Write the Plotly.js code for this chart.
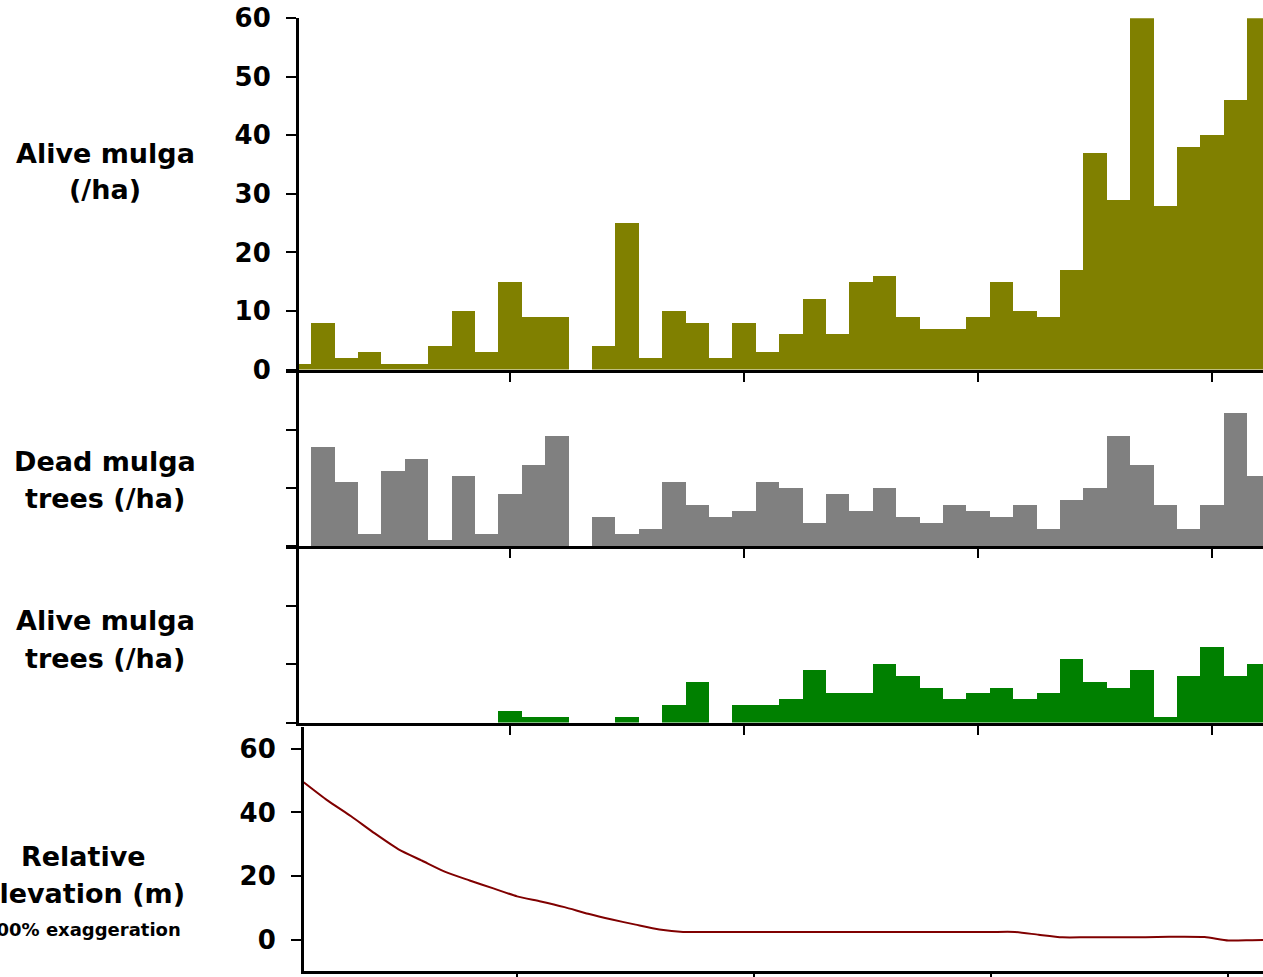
<!DOCTYPE html>
<html>
<head>
<meta charset="utf-8">
<script src="https://cdn.plot.ly/plotly-3.0.1.min.js"></script>
<style>html,body{margin:0;padding:0;overflow:hidden;background:#fff}#chart{width:1263px;height:977px}</style>
</head>
<body>
<div id="chart"></div>
<script>
// Transect bins (one bar per bin)
const bins = [0,1,2,3,4,5,6,7,8,9,10,11,12,13,14,15,16,17,18,19,20,21,22,23,24,25,26,27,28,29,30,31,32,33,34,35,36,37,38,39,40,41];
const aliveMulga = [1,8,2,3,1,1,4,10,3,15,9,9,0,4,25,2,10,8,2,8,3,6,12,6,15,16,9,7,7,9,15,10,9,17,37,29,60,28,38,40,46,60];
const deadTrees = [0,34,22,4,26,30,2,24,4,18,28,38,0,10,4,6,22,14,10,12,22,20,8,18,12,20,10,8,14,12,10,14,6,16,20,38,28,14,6,14,46,24];
const aliveTrees = [0,0,0,0,0,0,0,0,0,4,2,2,0,0,2,0,6,14,0,6,6,8,18,10,10,20,16,12,8,10,12,8,10,22,14,12,18,2,16,26,16,20];
// Relative elevation profile along the same transect
const elevDist = [0,1,2,3,4,5,6,7,8,9,10,11,12,13,14,15,16,17,18,19,20,21,22,23,24,25,26,27,28,29,30,31,32,33,34,35,36,37,38,39,40,41];
const elevation = [49.5,43.8,38.8,33.4,28.4,24.8,21.2,18.6,16.1,13.6,12.0,10.2,8.1,6.3,4.7,3.2,2.4,2.4,2.4,2.4,2.4,2.4,2.4,2.4,2.4,2.4,2.4,2.4,2.4,2.4,2.4,1.5,0.7,0.7,0.7,0.7,0.8,0.9,0.8,-0.3,-0.2,-0.1];
const tickPos = [9,19,29,39];
const panelLabels = ["Alive mulga<br>(/ha)","Dead mulga<br>trees (/ha)","Alive mulga<br>trees (/ha)","Relative<br>Elevation (m)"];
const noteLabel = "100% exaggeration";

const H = 977, L = 299, PW = 964;
const py = p => 1 - p / H;
const px = p => (p - L) / PW;
const FONT = {family: "DejaVu Sans, Arial, sans-serif", size: 26, color: "#000", weight: 700};
const TFONT = {family: FONT.family, size: 27, color: "#000", weight: 700};

const traces = [
  {type: "bar", x: bins, y: aliveMulga, xaxis: "x", yaxis: "y", marker: {color: "#808000", line: {width: 0}}, width: 1},
  {type: "bar", x: bins, y: deadTrees, xaxis: "x2", yaxis: "y2", marker: {color: "#808080", line: {width: 0}}, width: 1},
  {type: "bar", x: bins, y: aliveTrees, xaxis: "x3", yaxis: "y3", marker: {color: "#008000", line: {width: 0}}, width: 1},
  {type: "scatter", mode: "lines", x: elevDist, y: elevation, xaxis: "x4", yaxis: "y4", line: {color: "#800000", width: 2, shape: "spline", smoothing: 0.6}}
];

function xax(domain, range, anchor) {
  return {domain: domain, range: range, anchor: anchor, showgrid: false, zeroline: false, showline: true,
    linecolor: "#000", linewidth: 3, ticks: "outside", ticklen: 9, tickwidth: 2, tickcolor: "#000",
    tickmode: "array", tickvals: tickPos, showticklabels: false, fixedrange: true};
}
function yax(domain, range, anchor, labels, dtick) {
  return {domain: domain, range: range, anchor: anchor, showgrid: false, zeroline: false, showline: true,
    linecolor: "#000", linewidth: 3, ticks: "outside", ticklen: 10, tickwidth: 2, tickcolor: "#000",
    dtick: dtick, tick0: 0, showticklabels: labels, tickfont: FONT, ticklabelstandoff: 10, fixedrange: true};
}
// label line centres (px) for each panel label
const labelSpots = [[105, [153, 190]], [105, [461, 498]], [105, [620, 658]], [83, [856, 893]]];
const annotations = [];
panelLabels.forEach((lab, i) => {
  const lines = lab.split("<br>");
  lines.forEach((ln, j) => {
    annotations.push({text: ln, xref: "paper", yref: "paper", x: px(labelSpots[i][0]), y: py(labelSpots[i][1][j]),
      xanchor: "center", yanchor: "middle", showarrow: false, font: TFONT});
  });
});
annotations.push({text: noteLabel, xref: "paper", yref: "paper", x: px(183), y: py(929), xanchor: "right", yanchor: "middle",
  showarrow: false, font: {family: FONT.family, size: 18, color: "#000", weight: 700}});

const xr = [-0.02, 41.175];
const layout = {
  width: 1263, height: 977,
  margin: {l: L, r: 0, t: 0, b: 0, pad: 0},
  paper_bgcolor: "#fff", plot_bgcolor: "rgba(0,0,0,0)",
  showlegend: false, bargap: 0,
  xaxis: xax([0, 1], xr, "y"),
  yaxis: yax([py(369.5), py(18.3)], [0, 60], "x", true, 10),
  xaxis2: xax([0, 1], xr, "y2"),
  yaxis2: yax([py(546), py(372)], [0, 60], "x2", false, 20),
  xaxis3: xax([0, 1], xr, "y3"),
  yaxis3: yax([py(722.5), py(548)], [0, 60], "x3", false, 20),
  xaxis4: xax([px(304), 1], [0.013, 40.46], "y4"),
  yaxis4: yax([py(970.5), py(727)], [-9.74, 66.9], "x4", true, 20),
  annotations: annotations
};
Plotly.newPlot("chart", traces, layout, {displayModeBar: false, staticPlot: true});
</script>
</body>
</html>
